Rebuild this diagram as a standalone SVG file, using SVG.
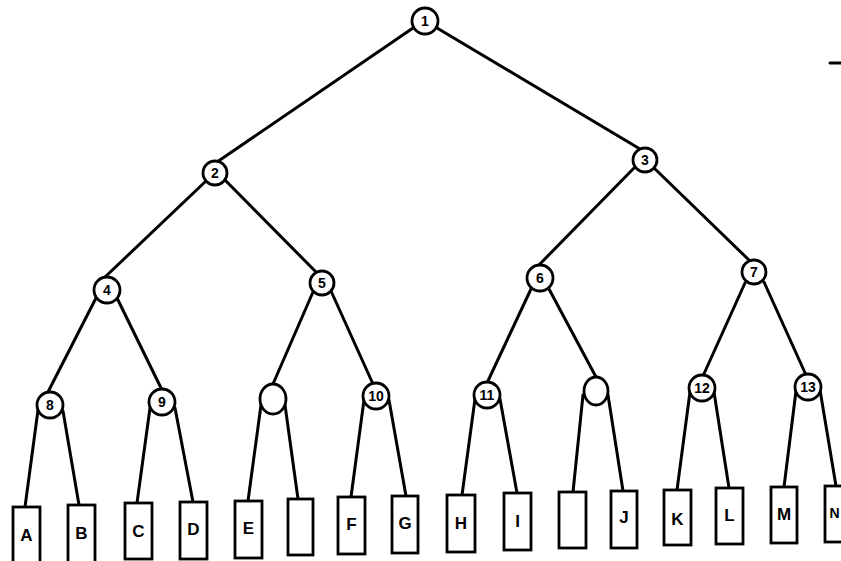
<svg xmlns="http://www.w3.org/2000/svg" width="841" height="561" viewBox="0 0 841 561">
<style>
.e{stroke:#000;stroke-width:3;stroke-linecap:round;fill:none}
.n{fill:#fff;stroke:#000;stroke-width:2.8}
.b{fill:#fff;stroke:#000;stroke-width:2.8}
.t{font-family:"Liberation Sans",Arial,sans-serif;font-weight:bold;font-size:14px;text-anchor:middle;dominant-baseline:central;fill:#000}
.l{font-family:"Liberation Sans",Arial,sans-serif;font-weight:bold;font-size:17px;text-anchor:middle;dominant-baseline:central;fill:#000}
</style>
<rect width="841" height="561" fill="#fff"/>
<g id="connectors">
<line class="e" x1="413" y1="28" x2="217" y2="162"/>
<line class="e" x1="437" y1="28" x2="640" y2="149"/>
<line class="e" x1="206" y1="181" x2="104" y2="278"/>
<line class="e" x1="225" y1="180" x2="317" y2="273"/>
<line class="e" x1="634" y1="168" x2="538" y2="266"/>
<line class="e" x1="654" y1="168" x2="750" y2="261"/>
<line class="e" x1="96" y1="298" x2="48" y2="392"/>
<line class="e" x1="117" y1="298" x2="162" y2="390"/>
<line class="e" x1="313" y1="292" x2="273" y2="384"/>
<line class="e" x1="331" y1="291" x2="373" y2="384"/>
<line class="e" x1="531" y1="289" x2="487" y2="383"/>
<line class="e" x1="549" y1="289" x2="596" y2="377"/>
<line class="e" x1="745" y1="283" x2="703" y2="376"/>
<line class="e" x1="764" y1="282" x2="806" y2="375"/>
<line class="e" x1="38" y1="410" x2="25" y2="507"/>
<line class="e" x1="63" y1="411" x2="79" y2="505"/>
<line class="e" x1="150" y1="408" x2="137" y2="503"/>
<line class="e" x1="175" y1="408" x2="193" y2="502"/>
<line class="e" x1="261" y1="405" x2="248" y2="501"/>
<line class="e" x1="285" y1="405" x2="298" y2="499"/>
<line class="e" x1="364" y1="400" x2="351" y2="497"/>
<line class="e" x1="389" y1="400" x2="406" y2="496"/>
<line class="e" x1="475" y1="399" x2="462" y2="495"/>
<line class="e" x1="500" y1="399" x2="517" y2="493"/>
<line class="e" x1="583" y1="395" x2="573" y2="492"/>
<line class="e" x1="608" y1="395" x2="623" y2="491"/>
<line class="e" x1="690" y1="392" x2="677" y2="490"/>
<line class="e" x1="714" y1="392" x2="729" y2="488"/>
<line class="e" x1="796" y1="391" x2="784" y2="487"/>
<line class="e" x1="820" y1="390" x2="836" y2="486"/>
<line class="e" x1="830" y1="63" x2="841" y2="63" stroke-width="2"/>
</g>
<g id="n1"><circle class="n" cx="425" cy="21" r="13"/><text class="t" x="425" y="21">1</text></g>
<g id="n2"><circle class="n" cx="215" cy="173" r="12"/><text class="t" x="215" y="173">2</text></g>
<g id="n3"><circle class="n" cx="645" cy="160" r="12"/><text class="t" x="645" y="160">3</text></g>
<g id="n4"><circle class="n" cx="107" cy="290" r="13"/><text class="t" x="107" y="290">4</text></g>
<g id="n5"><circle class="n" cx="322" cy="283" r="12"/><text class="t" x="322" y="283">5</text></g>
<g id="n6"><circle class="n" cx="540" cy="278" r="13"/><text class="t" x="540" y="278">6</text></g>
<g id="n7"><circle class="n" cx="754" cy="272" r="12"/><text class="t" x="754" y="272">7</text></g>
<g id="n8"><circle class="n" cx="50" cy="405" r="13"/><text class="t" x="50" y="405">8</text></g>
<g id="n9"><circle class="n" cx="162" cy="402" r="13"/><text class="t" x="162" y="402">9</text></g>
<g id="nE1"><ellipse class="n" cx="273" cy="399" rx="13" ry="15"/></g>
<g id="n10"><circle class="n" cx="376" cy="396" r="13"/><text class="t" x="376" y="396">10</text></g>
<g id="n11"><circle class="n" cx="487" cy="395" r="13"/><text class="t" x="487" y="395">11</text></g>
<g id="nE2"><ellipse class="n" cx="596" cy="391" rx="12" ry="14"/></g>
<g id="n12"><circle class="n" cx="702" cy="388" r="13"/><text class="t" x="702" y="388">12</text></g>
<g id="n13"><circle class="n" cx="808" cy="387" r="13"/><text class="t" x="808" y="387">13</text></g>
<g id="lA"><rect class="b" x="13" y="507" width="27" height="58"/><text class="l" x="26.5" y="535">A</text></g>
<g id="lB"><rect class="b" x="68" y="505" width="27" height="58"/><text class="l" x="81.5" y="533">B</text></g>
<g id="lC"><rect class="b" x="125" y="503" width="27" height="56"/><text class="l" x="138.5" y="531">C</text></g>
<g id="lD"><rect class="b" x="180" y="502" width="27" height="57"/><text class="l" x="193.5" y="529">D</text></g>
<g id="lE"><rect class="b" x="235" y="501" width="27" height="57"/><text class="l" x="248.5" y="528">E</text></g>
<g id="lX1"><rect class="b" x="288" y="499" width="25" height="56"/></g>
<g id="lF"><rect class="b" x="338" y="497" width="27" height="57"/><text class="l" x="351.5" y="524">F</text></g>
<g id="lG"><rect class="b" x="392" y="496" width="26" height="57"/><text class="l" x="405" y="523">G</text></g>
<g id="lH"><rect class="b" x="447" y="495" width="28" height="57"/><text class="l" x="461" y="523">H</text></g>
<g id="lI"><rect class="b" x="504" y="493" width="27" height="57"/><text class="l" x="517.5" y="521">I</text></g>
<g id="lX2"><rect class="b" x="559" y="492" width="27" height="56"/></g>
<g id="lJ"><rect class="b" x="611" y="491" width="26" height="57"/><text class="l" x="624" y="517">J</text></g>
<g id="lK"><rect class="b" x="664" y="490" width="27" height="55"/><text class="l" x="677.5" y="519">K</text></g>
<g id="lL"><rect class="b" x="716" y="488" width="27" height="56"/><text class="l" x="729.5" y="515">L</text></g>
<g id="lM"><rect class="b" x="771" y="487" width="26" height="56"/><text class="l" x="784" y="514">M</text></g>
<g id="lN"><rect class="b" x="825" y="486" width="24" height="56"/><text class="l" x="834.5" y="513" style="font-size:14px">N</text></g>
</svg>
